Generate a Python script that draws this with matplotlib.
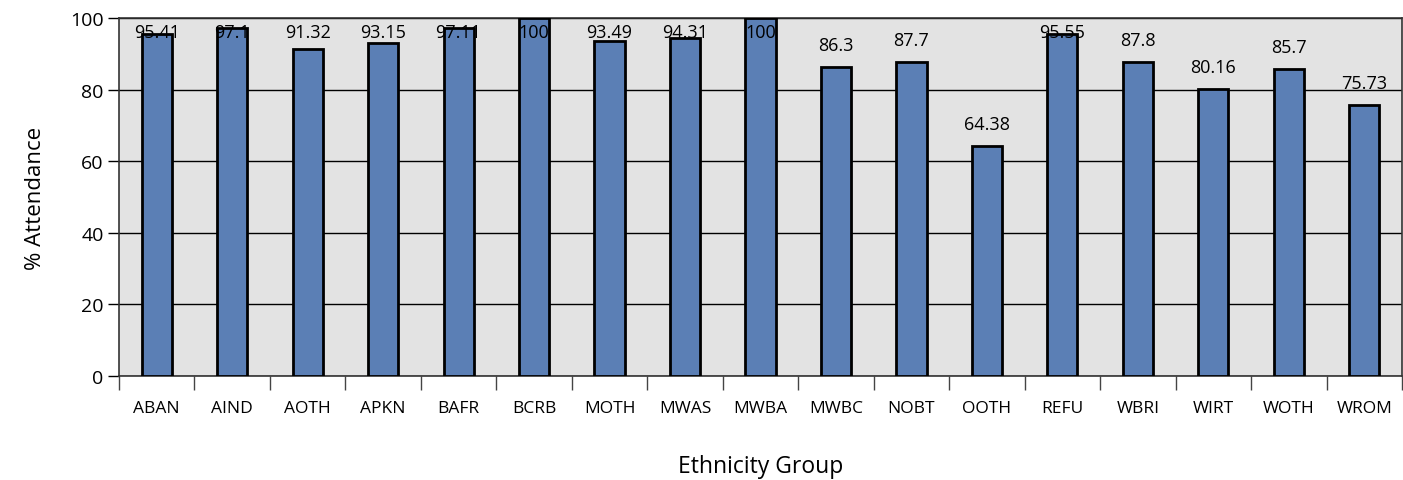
import numpy as np
import matplotlib.pyplot as plt

groups = ["ABAN", "AIND", "AOTH", "APKN", "BAFR", "BCRB", "MOTH", "MWAS", "MWBA",
          "MWBC", "NOBT", "OOTH", "REFU", "WBRI", "WIRT", "WOTH", "WROM"]
attendance = [95.41, 97.1, 91.32, 93.15, 97.11, 100, 93.49, 94.31, 100,
              86.3, 87.7, 64.38, 95.55, 87.8, 80.16, 85.7, 75.73]

plt.rcParams['font.family'] = ['Open Sans', 'DejaVu Sans']

fig = plt.figure(figsize=(14.03, 4.81), dpi=100)
ax = fig.add_axes([119 / 1403, 1 - 377 / 481, (1402 - 119) / 1403, (377 - 19) / 481])

x = np.arange(len(groups))
ax.set_facecolor('#e3e3e3')
ax.bar(x, attendance, width=0.4, color='#5b7fb5', edgecolor='black', linewidth=2, zorder=3)

# value labels sit above each bar, but never above the top of the plot
for xi, v in zip(x, attendance):
    ax.text(xi, min(v + 6.1, 96.2), f"{v:g}", ha='center', va='center',
            fontsize=13, color='black', zorder=4)

ax.set_xlim(-0.5, len(groups) - 0.5)
ax.set_ylim(0, 100)
ax.set_yticks(range(0, 101, 20))
ax.tick_params(axis='y', direction='out', length=8, width=1, labelsize=14, pad=3)
ax.yaxis.grid(True, color='black', linewidth=1, zorder=1)

ax.set_xticks(np.arange(len(groups) + 1) - 0.5)
ax.set_xticklabels([])
ax.set_xticks(x, minor=True)
ax.set_xticklabels(groups, minor=True, fontsize=12.5)
ax.tick_params(axis='x', which='major', direction='out', length=10, width=1, color='#444444')
ax.tick_params(axis='x', which='minor', length=0, pad=17)

for s in ax.spines.values():
    s.set_color('#333333')
    s.set_linewidth(1.2)

ax.set_ylabel('% Attendance', fontsize=16, labelpad=17)
ax.set_xlabel('Ethnicity Group', fontsize=16.5, labelpad=28)

fig.savefig('out.png', dpi=100)
